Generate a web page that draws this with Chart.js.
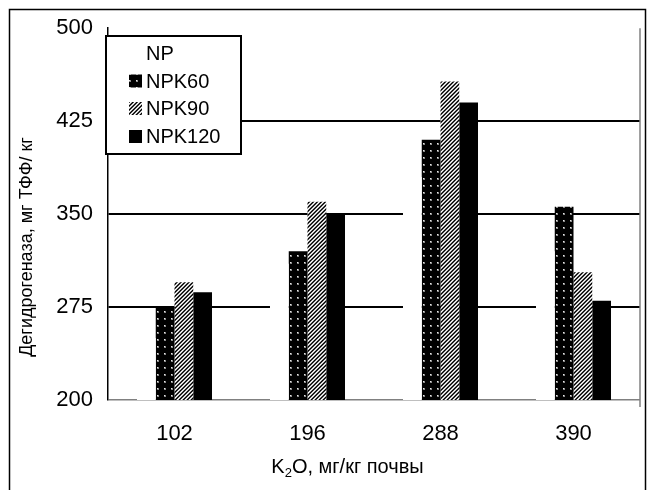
<!DOCTYPE html>
<html><head><meta charset="utf-8">
<script src="https://cdn.jsdelivr.net/npm/chart.js@4/dist/chart.umd.min.js"></script>
<style>html,body{margin:0;padding:0;background:#fff}#wrap{width:655px;height:490px}</style>
</head><body><div id="wrap"><canvas id="c" width="655" height="490"></canvas></div>
<script>
// ---- data ----
const categories = ['102', '196', '288', '390'];
const seriesNames = ['NP', 'NPK60', 'NPK90', 'NPK120'];
const npValues = [250, 310, 380, 320];
const npk60Values = [275, 320, 410, 356];
const npk90Values = [295, 360, 457, 303];
const npk120Values = [287, 350, 440, 280];
const yMin = 200, yMax = 500, yStep = 75;
const yTitle = 'Дегидрогеназа, мг ТФФ/ кг';
const xTitleParts = ['K', '2', 'O, мг/кг почвы'];

const FONT = '"Liberation Sans", Arial, sans-serif';
const canvas = document.getElementById('c');
const ctx0 = canvas.getContext('2d');

function dotPattern() {
  const c = document.createElement('canvas'); c.width = 7; c.height = 7;
  const g = c.getContext('2d');
  g.fillStyle = '#000'; g.fillRect(0, 0, 7, 7);
  g.fillStyle = '#8a8a8a'; g.fillRect(3, 3, 2, 2);
  g.fillStyle = '#e8e8e8'; g.fillRect(3, 3, 1, 1);
  return ctx0.createPattern(c, 'repeat');
}
function stripePattern() {
  const c = document.createElement('canvas'); c.width = 4; c.height = 4;
  const g = c.getContext('2d');
  const cols = ['#ffffff', '#b0b0b0', '#000000', '#505050'];
  for (let x = 0; x < 4; x++) for (let y = 0; y < 4; y++) {
    g.fillStyle = cols[(x + y) % 4]; g.fillRect(x, y, 1, 1);
  }
  return ctx0.createPattern(c, 'repeat');
}
const fills = ['#ffffff', dotPattern(), stripePattern(), '#000000'];
const seriesValues = [npValues, npk60Values, npk90Values, npk120Values];

const decor = {
  id: 'decor',
  afterDraw(chart) {
    const ctx = chart.ctx, a = chart.chartArea;
    ctx.save();
    // right plot edge
    ctx.strokeStyle = '#808080'; ctx.lineWidth = 1.5;
    ctx.beginPath(); ctx.moveTo(a.right, a.top); ctx.lineTo(a.right, a.bottom + 7); ctx.stroke();
    // legend box
    const lx = 106, ly = 36, lw = 135, lh = 118;
    ctx.fillStyle = '#fff'; ctx.fillRect(lx, ly, lw, lh);
    ctx.strokeStyle = '#000'; ctx.lineWidth = 2; ctx.strokeRect(lx, ly, lw, lh);
    const rows = [53, 81, 108.5, 136.5];
    ctx.font = '20px ' + FONT; ctx.textBaseline = 'middle'; ctx.textAlign = 'left';
    chart.data.datasets.forEach((ds, i) => {
      ctx.fillStyle = ds.backgroundColor;
      ctx.fillRect(129, rows[i] - 6.5, 13, 13);
      ctx.fillStyle = '#000';
      ctx.fillText(ds.label, 146, rows[i] + 1);
    });
    // y title
    ctx.save();
    ctx.translate(27, 247); ctx.rotate(-Math.PI / 2);
    ctx.font = '18px ' + FONT; ctx.textAlign = 'center'; ctx.textBaseline = 'middle';
    ctx.fillText(yTitle, 0, 0);
    ctx.restore();
    // x title with subscript
    const big = '20px ' + FONT, small = '13px ' + FONT;
    ctx.font = big; const w0 = ctx.measureText(xTitleParts[0]).width, w2 = ctx.measureText(xTitleParts[2]).width;
    ctx.font = small; const w1 = ctx.measureText(xTitleParts[1]).width;
    let x = 347.5 - (w0 + w1 + w2) / 2, base = 472.5;
    ctx.textBaseline = 'alphabetic'; ctx.textAlign = 'left';
    ctx.font = big; ctx.fillText(xTitleParts[0], x, base); x += w0;
    ctx.font = small; ctx.fillText(xTitleParts[1], x, base + 4); x += w1;
    ctx.font = big; ctx.fillText(xTitleParts[2], x, base);
    // outer border
    ctx.strokeStyle = '#000'; ctx.lineWidth = 1.5;
    ctx.strokeRect(9.5, 9.5, 636, 500);
    ctx.restore();
  }
};

new Chart(canvas, {
  type: 'bar',
  data: {
    labels: categories,
    datasets: seriesNames.map((n, i) => ({
      label: n, data: seriesValues[i], backgroundColor: fills[i], borderWidth: 0,
      categoryPercentage: 0.564, barPercentage: 1.0
    }))
  },
  options: {
    responsive: false, animation: false, devicePixelRatio: 1,
    layout: { padding: { left: 0, top: 28, right: 15, bottom: 0 } },
    plugins: { legend: { display: false }, tooltip: { enabled: false } },
    scales: {
      x: {
        afterFit(s) { s.height = 90; },
        grid: { display: false, drawTicks: false },
        border: { display: false },
        ticks: { color: '#000', font: { size: 22, family: FONT }, padding: 21, maxRotation: 0 }
      },
      y: {
        min: yMin, max: yMax,
        afterFit(s) { s.width = 108; },
        ticks: { stepSize: yStep, color: '#000', font: { size: 22, family: FONT }, padding: 15 },
        grid: {
          drawTicks: false,
          color: c => c.tick.value === yMin ? '#808080' : (c.tick.value === yMax ? 'rgba(0,0,0,0)' : '#000'),
          lineWidth: c => c.tick.value === yMin ? 1.5 : 2
        },
        border: { display: true, color: '#000', width: 1.5 }
      }
    }
  },
  plugins: [decor]
});
</script></body></html>
